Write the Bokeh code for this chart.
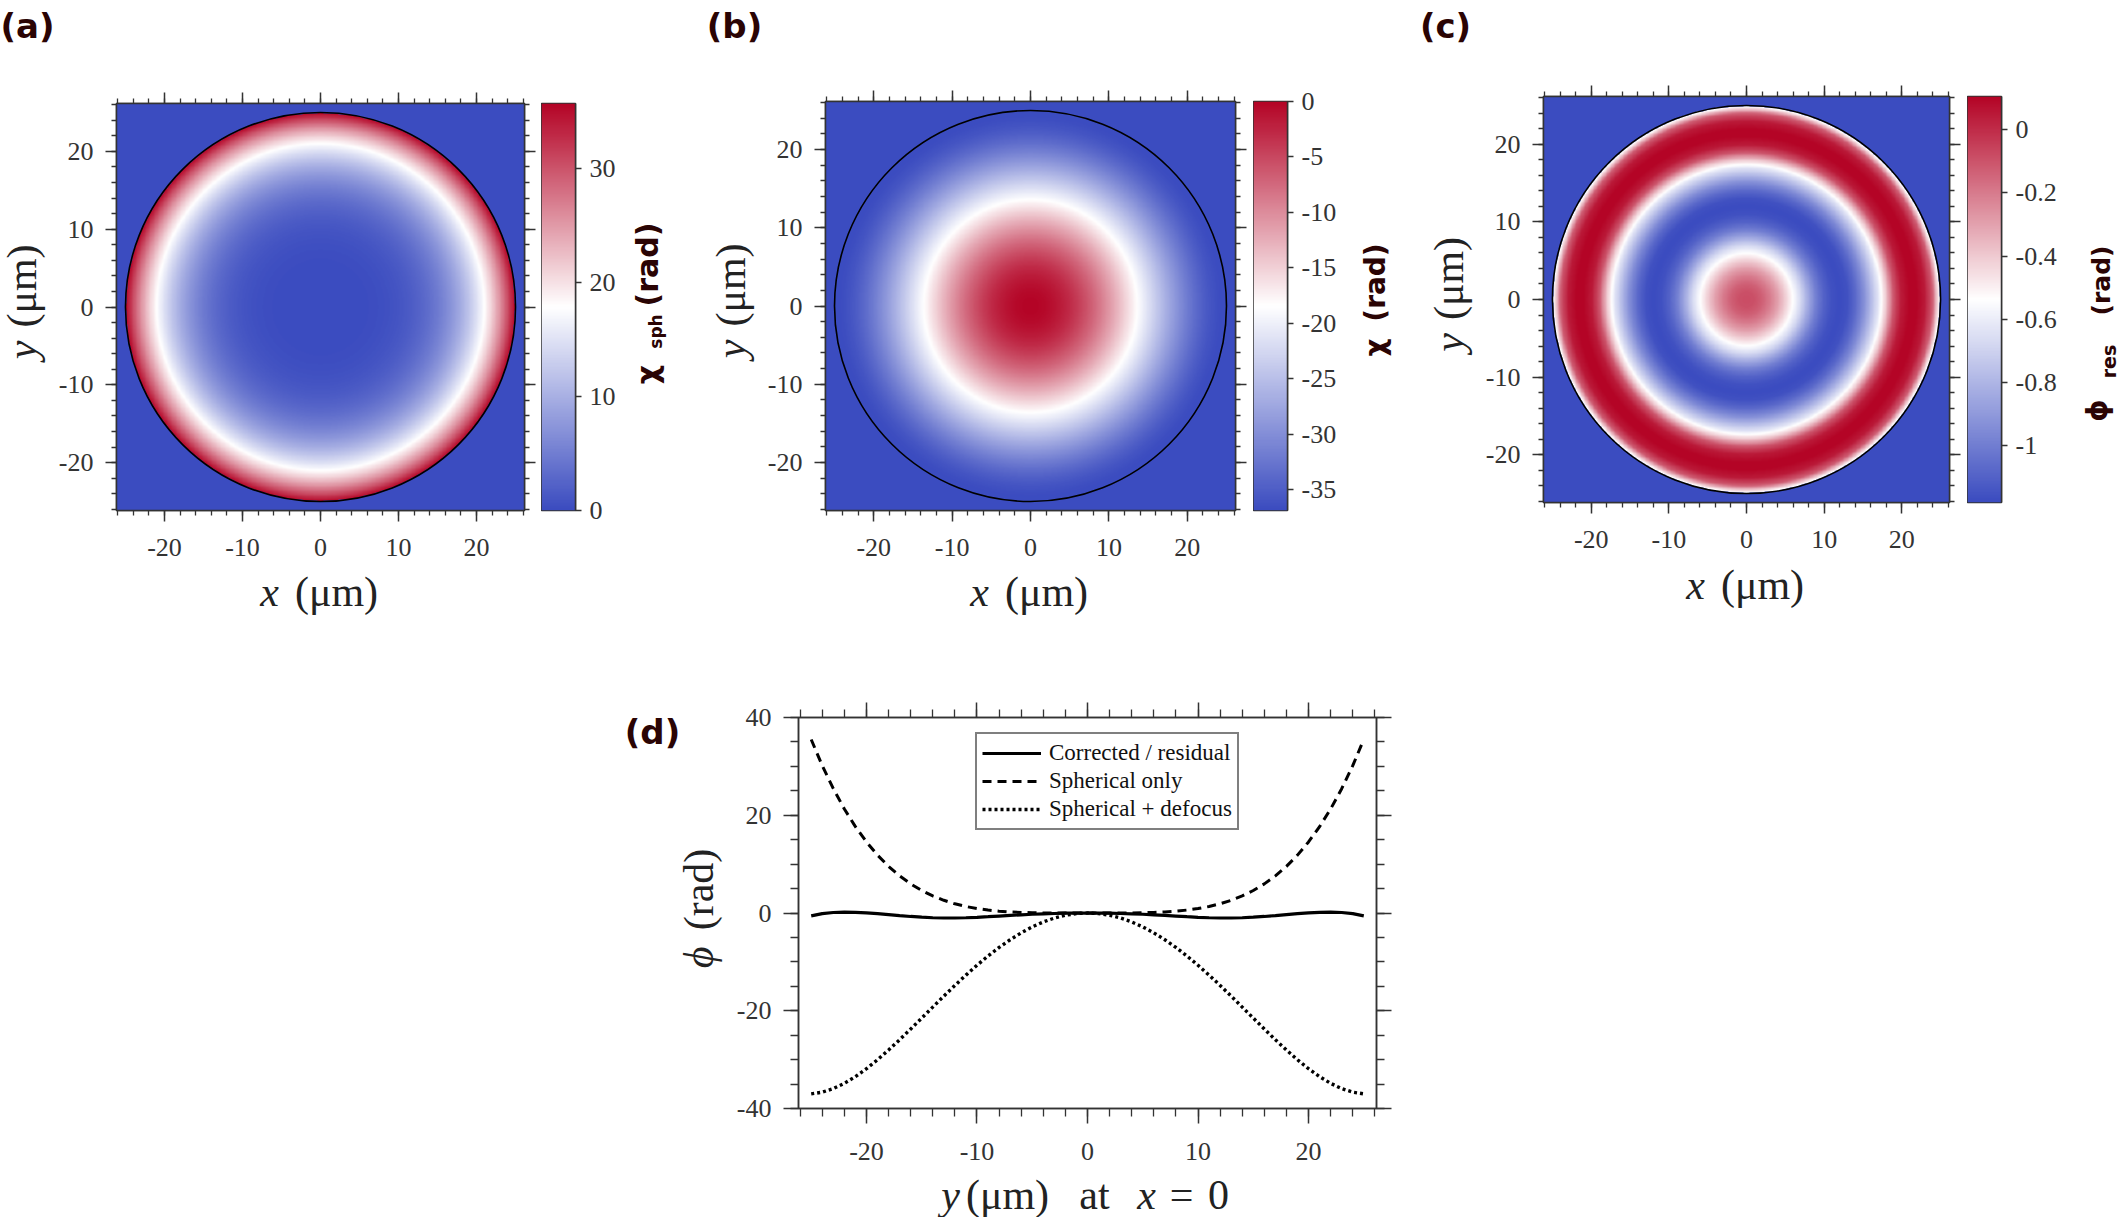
import numpy as np
from bokeh.plotting import figure
from bokeh.models import (Range1d, LinearAxis, FixedTicker, LinearColorMapper,
                          Legend, LegendItem)
from bokeh.core.properties import value
from bokeh.layouts import row, column
from bokeh.embed import file_html
from bokeh.resources import INLINE

# ---------------- data ----------------
r_um = [0, 1, 2, 3, 4, 5, 6, 7, 8, 9, 10, 11, 12, 13, 14, 15, 16, 17, 18, 19, 20, 21, 22, 23, 24, 25]

# (a) spherical aberration phase chi_sph (rad) vs radius
chi_sph_rad = [0.00, 0.00, 0.00, 0.01, 0.02, 0.06, 0.12, 0.22, 0.37, 0.60, 0.91, 1.33, 1.88,
               2.60, 3.49, 4.60, 5.96, 7.59, 9.54, 11.84, 14.54, 17.67, 21.29, 25.43, 30.15, 35.50]
# (b) spherical + defocus chi (rad) vs radius
chi_total_rad = [0.00, -0.12, -0.46, -1.04, -1.83, -2.84, -4.06, -5.47, -7.05, -8.80, -10.69,
                 -12.71, -14.82, -17.01, -19.25, -21.50, -23.74, -25.93, -28.04, -30.03, -31.86,
                 -33.48, -34.85, -35.93, -36.66, -37.00]
# (c) residual phase phi_res (rad) vs radius
phi_res_rad = [-0.08, -0.09, -0.13, -0.20, -0.29, -0.41, -0.54, -0.68, -0.85, -1.00, -1.10,
               -1.16, -1.18, -1.16, -1.08, -0.96, -0.80, -0.63, -0.40, -0.10, 0.05, 0.10,
               0.10, 0.05, -0.12, -0.60]
# (d) corrected / residual cut along x = 0 (rad) vs |y|
residual_cut_rad = [0.00, -0.01, -0.04, -0.10, -0.17, -0.26, -0.37, -0.50, -0.63, -0.76, -0.88,
                    -0.97, -1.02, -1.02, -0.97, -0.86, -0.71, -0.52, -0.32, -0.12, 0.04, 0.14,
                    0.17, 0.10, -0.12, -0.60]

aperture_radius = 25.0
axis_extent = 26.15

xy_ticks = [-20, -10, 0, 10, 20]
xy_tick_labels = ["-20", "-10", "0", "10", "20"]
xy_minor = list(range(-26, 27, 2))

cb_a_range = (0.0, 35.7)
cb_a_ticks = [0, 10, 20, 30]
cb_a_labels = ["0", "10", "20", "30"]
cb_b_range = (-36.9, 0.0)
cb_b_ticks = [0, -5, -10, -15, -20, -25, -30, -35]
cb_b_labels = ["0", "-5", "-10", "-15", "-20", "-25", "-30", "-35"]
cb_c_range = (-1.18, 0.105)
cb_c_ticks = [0, -0.2, -0.4, -0.6, -0.8, -1]
cb_c_labels = ["0", "-0.2", "-0.4", "-0.6", "-0.8", "-1"]

d_y_range = (-40, 40)
d_y_ticks = [-40, -20, 0, 20, 40]
d_y_labels = ["-40", "-20", "0", "20", "40"]
d_y_minor = list(range(-40, 41, 5))

legend_labels = ["Corrected / residual", "Spherical only", "Spherical + defocus"]
panel_letters = ["(a)", "(b)", "(c)", "(d)"]

# ---------------- style ----------------
TICK_FONT = "Liberation Serif"
TITLE_FONT = "Liberation Serif"
BOLD_FONT = "DejaVu Sans"
AX_COL = "#333333"
TXT_COL = "#333333"
TITLE_COL = "#222222"
MAROON = "#2a0404"
A90 = np.pi / 2


def make_palette():
    blue = np.array([59, 76, 192], float)
    white = np.array([255, 255, 255], float)
    red = np.array([180, 4, 38], float)
    pal = []
    for i in range(256):
        t = i / 255
        if t < 0.5:
            c = blue + (white - blue) * (t / 0.5)
        else:
            c = white + (red - white) * ((t - 0.5) / 0.5)
        pal.append("#%02x%02x%02x" % tuple(int(round(v)) for v in c))
    return pal


PALETTE = make_palette()


def style_axis(ax, ticks, minor, labels, tick_out, minor_out, show, standoff, size=26):
    ax.ticker = FixedTicker(ticks=ticks, minor_ticks=minor)
    ax.major_tick_in = 0
    ax.major_tick_out = tick_out
    ax.minor_tick_in = 0
    ax.minor_tick_out = minor_out
    ax.axis_line_color = AX_COL
    ax.axis_line_width = 1.5
    ax.major_tick_line_color = AX_COL
    ax.major_tick_line_width = 1.5
    ax.minor_tick_line_color = AX_COL
    ax.minor_tick_line_width = 1.3
    ax.major_label_text_font = TICK_FONT
    ax.major_label_text_font_size = f"{size}px"
    ax.major_label_text_color = TXT_COL
    if show:
        ax.major_label_overrides = {t: s for t, s in zip(ticks, labels)}
        ax.major_label_standoff = standoff
    else:
        ax.major_label_overrides = {t: "" for t in ticks}
        ax.major_label_standoff = 0


def new_fig(cw, ch, fl, ft, fw, fh, xr, yr, axes=True):
    kw = dict(width=cw, height=ch, x_range=Range1d(*xr), y_range=Range1d(*yr),
              output_backend="svg", toolbar_location=None, title=None,
              min_border_left=fl, min_border_right=cw - fl - fw,
              min_border_top=ft, min_border_bottom=ch - ft - fh)
    if not axes:
        kw.update(x_axis_type=None, y_axis_type=None)
    p = figure(**kw)
    p.outline_line_color = AX_COL
    p.outline_line_width = 1.5
    p.background_fill_color = "white"
    p.border_fill_color = "white"
    if axes:
        p.xgrid.grid_line_color = None
        p.ygrid.grid_line_color = None
    return p


def text_fig(x0, y0, w, h):
    """A blank figure whose frame covers the whole canvas; data units = page pixels."""
    p = figure(width=w, height=h, x_range=Range1d(x0, x0 + w), y_range=Range1d(-(y0 + h), -y0),
               output_backend="svg", toolbar_location=None, title=None,
               x_axis_type=None, y_axis_type=None, min_border=0,
               min_border_left=0, min_border_right=0, min_border_top=0, min_border_bottom=0)
    p.outline_line_color = None
    p.background_fill_color = "white"
    p.border_fill_color = "white"
    return p


def boxed(p):
    """Wrap a figure in its own box so that its frame is not aligned with neighbours."""
    return column(p)


def txt(p, cx, cy, text, size, font, style="normal", color=TITLE_COL, angle=0.0):
    """Text centred (both ways) on page pixel (cx, cy)."""
    p.text(x=[cx], y=[-cy], text=[text], text_font=value(font),
           text_font_size=value(f"{size}px"), text_font_style=style, text_color=color,
           text_align="center", text_baseline="middle", angle=angle)


def heat_panel(cw, ch, fl, ft, fw, fh, prof, rng):
    L = axis_extent
    p = new_fig(cw, ch, fl, ft, fw, fh, (-L, L), (-L, L))
    n = 500
    g = np.linspace(-L, L, n)
    X, Y = np.meshgrid(g, g)
    R = np.sqrt(X ** 2 + Y ** 2)
    Z = np.interp(R, r_um, prof)
    Z[R > aperture_radius] = rng[0]
    mapper = LinearColorMapper(palette=PALETTE, low=rng[0], high=rng[1])
    p.image(image=[Z], x=-L, y=-L, dw=2 * L, dh=2 * L, color_mapper=mapper)
    p.ellipse(x=[0.0], y=[0.0], width=[2 * aperture_radius], height=[2 * aperture_radius],
              fill_color=None, line_color="black", line_width=1.6)
    style_axis(p.below[0], xy_ticks, xy_minor, xy_tick_labels, 11, 5, True, 17)
    style_axis(p.left[0], xy_ticks, xy_minor, xy_tick_labels, 11, 5, True, 12)
    top = LinearAxis()
    right = LinearAxis()
    p.add_layout(top, "above")
    p.add_layout(right, "right")
    style_axis(top, xy_ticks, xy_minor, xy_tick_labels, 11, 5, False, 0)
    style_axis(right, xy_ticks, xy_minor, xy_tick_labels, 11, 5, False, 0)
    return p


def colorbar_fig(cw, ch, ft, fw, fh, rng, ticks, labels):
    p = new_fig(cw, ch, 0, ft, fw, fh, (0, 1), rng, axes=False)
    grad = np.linspace(rng[0], rng[1], 400).reshape(400, 1)
    mapper = LinearColorMapper(palette=PALETTE, low=rng[0], high=rng[1])
    p.image(image=[grad], x=0, y=rng[0], dw=1, dh=rng[1] - rng[0], color_mapper=mapper)
    ax = LinearAxis()
    p.add_layout(ax, "right")
    style_axis(ax, ticks, [], labels, 6, 0, True, 8)
    return p


def y_title(p, frame_left, frame_cy):
    cx = frame_left - 95
    txt(p, cx, frame_cy + 43, "y", 42, TITLE_FONT, "italic", angle=A90)
    txt(p, cx, frame_cy - 21, "(μm)", 42, TITLE_FONT, angle=A90)


def x_title(p, frame_cx, cy):
    txt(p, frame_cx - 51, cy, "x", 42, TITLE_FONT, "italic")
    txt(p, frame_cx + 16, cy, "(μm)", 42, TITLE_FONT)


# ---------------- row 1 ----------------
TOP_H = 48                 # strip with panel letters
MID_Y0 = TOP_H
MID_AB_H = 521             # (a),(b) heat maps + colour bars
MID_C_H = 511              # (c) heat map + colour bar (sits a little higher)

letters = text_fig(0, 0, 2125, TOP_H)
txt(letters, 27, 25, panel_letters[0], 34, BOLD_FONT, "bold", MAROON)
txt(letters, 734, 25, panel_letters[1], 34, BOLD_FONT, "bold", MAROON)
txt(letters, 1445, 25, panel_letters[2], 34, BOLD_FONT, "bold", MAROON)

# panel (a): frame x 116..524, y 103..510
T0 = text_fig(0, MID_Y0, 52, MID_AB_H)
y_title(T0, 116, 306.5)
fa = heat_panel(489, MID_AB_H, 64, 103 - MID_Y0, 408, 407, chi_sph_rad, cb_a_range)
cba = colorbar_fig(84, MID_AB_H, 103 - MID_Y0, 34, 407, cb_a_range, cb_a_ticks, cb_a_labels)

T1 = text_fig(625, MID_Y0, 135, MID_AB_H)
txt(T1, 647, 374, "χ", 30, BOLD_FONT, "bold", MAROON, angle=A90)
txt(T1, 655, 331, "sph", 17, BOLD_FONT, "bold", MAROON, angle=A90)
txt(T1, 647, 264, "(rad)", 30, BOLD_FONT, "bold", MAROON, angle=A90)
y_title(T1, 825, 305.5)

# panel (b): frame x 825..1235, y 101..510
fb = heat_panel(493, MID_AB_H, 65, 101 - MID_Y0, 410, 409, chi_total_rad, cb_b_range)
cbb = colorbar_fig(92, MID_AB_H, 101 - MID_Y0, 34, 409, cb_b_range, cb_b_ticks, cb_b_labels)

T2 = text_fig(1345, MID_Y0, 133, MID_AB_H)
txt(T2, 1375, 347, "χ", 28, BOLD_FONT, "bold", MAROON, angle=A90)
txt(T2, 1375, 282, "(rad)", 28, BOLD_FONT, "bold", MAROON, angle=A90)
y_title(T2, 1543, 299.0)

XT_AB_Y0 = MID_Y0 + MID_AB_H
xt_ab = text_fig(0, XT_AB_Y0, 1478, 620 - XT_AB_Y0)
x_title(xt_ab, 320.0, 591)
x_title(xt_ab, 1030.0, 591)

mid_ab = row(boxed(T0), row(fa, cba), boxed(T1), row(fb, cbb), boxed(T2))
col_ab = column(mid_ab, xt_ab)

# panel (c): frame x 1543..1949, y 96..502
fc = heat_panel(489, MID_C_H, 65, 96 - MID_Y0, 406, 406, phi_res_rad, cb_c_range)
cbc = colorbar_fig(108, MID_C_H, 96 - MID_Y0, 34, 406, cb_c_range, cb_c_ticks, cb_c_labels)

T3 = text_fig(2075, MID_Y0, 50, MID_C_H)
txt(T3, 2097, 410, "ϕ", 28, BOLD_FONT, "bold", MAROON, angle=A90)
txt(T3, 2108, 361, "res", 19, BOLD_FONT, "bold", MAROON, angle=A90)
txt(T3, 2101, 280, "(rad)", 25, BOLD_FONT, "bold", MAROON, angle=A90)

XT_C_Y0 = MID_Y0 + MID_C_H
xt_c = text_fig(1478, XT_C_Y0, 647, 620 - XT_C_Y0)
x_title(xt_c, 1746.0, 584)

mid_c = row(row(fc, cbc), boxed(T3))
col_c = column(mid_c, xt_c)

row1 = column(letters, row(col_ab, col_c))

# ---------------- row 2 : panel (d) ----------------
r_arr = np.array(r_um, float)
y_cut = np.concatenate([-r_arr[:0:-1], r_arr])


def mirror(v):
    v = np.array(v, float)
    return np.concatenate([v[:0:-1], v])


L = axis_extent
R2_Y0 = 620
D_X0 = 730
D_H = 552            # figure height (frame 717..1108)
DX_H = 1217 - R2_Y0 - D_H

Tleft = text_fig(0, R2_Y0, D_X0, 1217 - R2_Y0)
txt(Tleft, 652, 731, panel_letters[3], 34, BOLD_FONT, "bold", MAROON)
txt(Tleft, 698, 957, "ϕ", 42, TITLE_FONT, "italic", angle=A90)
txt(Tleft, 698, 889, "(rad)", 42, TITLE_FONT, angle=A90)

fd = new_fig(676, D_H, 68, 717 - R2_Y0, 578, 391, (-L, L), d_y_range)
r1 = fd.line(y_cut, mirror(residual_cut_rad), line_color="black", line_width=3.2)
r2 = fd.line(y_cut, mirror(chi_sph_rad), line_color="black", line_width=3.0, line_dash="9 6")
r3 = fd.line(y_cut, mirror(chi_total_rad), line_color="black", line_width=3.4, line_dash="3 3")

style_axis(fd.below[0], xy_ticks, xy_minor, xy_tick_labels, 15, 8, True, 19)
style_axis(fd.left[0], d_y_ticks, d_y_minor, d_y_labels, 15, 8, True, 12)
dtop = LinearAxis()
dright = LinearAxis()
fd.add_layout(dtop, "above")
fd.add_layout(dright, "right")
style_axis(dtop, xy_ticks, xy_minor, xy_tick_labels, 15, 8, False, 0)
style_axis(dright, d_y_ticks, d_y_minor, d_y_labels, 15, 8, False, 0)

legend = Legend(items=[LegendItem(label=legend_labels[0], renderers=[r1]),
                       LegendItem(label=legend_labels[1], renderers=[r2]),
                       LegendItem(label=legend_labels[2], renderers=[r3])],
                location=(177, 278))
legend.label_text_font = TICK_FONT
legend.label_text_font_size = "23px"
legend.label_text_color = "#111111"
legend.glyph_width = 59
legend.glyph_height = 28
legend.label_height = 28
legend.label_standoff = 8
legend.padding = 5
legend.spacing = 0
legend.margin = 0
legend.border_line_color = "black"
legend.border_line_width = 2
legend.background_fill_color = "white"
legend.background_fill_alpha = 1.0
fd.add_layout(legend)

xd = text_fig(D_X0, R2_Y0 + D_H, 676, DX_H)
by = 1194
txt(xd, 950, by, "y", 42, TITLE_FONT, "italic")
txt(xd, 1007, by, "(μm)", 42, TITLE_FONT)
txt(xd, 1094, by, "at", 42, TITLE_FONT)
txt(xd, 1146, by, "x", 42, TITLE_FONT, "italic")
txt(xd, 1181, by, "=", 42, TITLE_FONT)
txt(xd, 1218, by, "0", 42, TITLE_FONT)

row2 = row(Tleft, column(fd, boxed(xd)))
layout = column(row1, row2)

open("out.html", "w").write(file_html(layout, INLINE))
